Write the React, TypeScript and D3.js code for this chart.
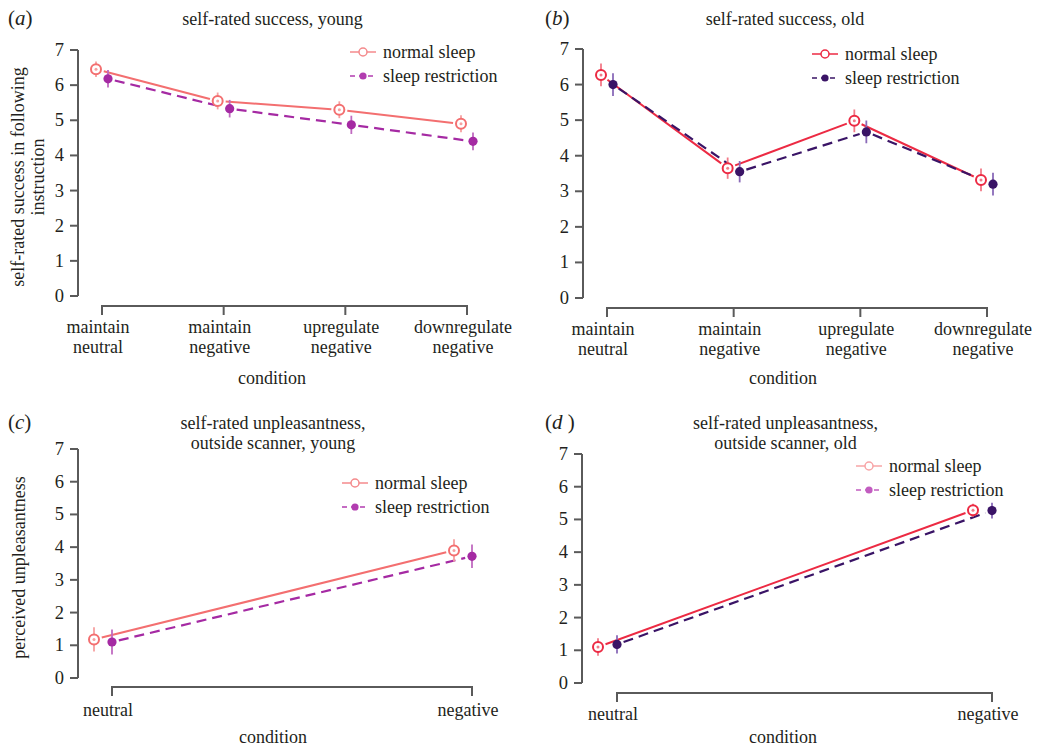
import React from "react";
import * as d3 from "d3";

// categories
const successCats = [
  ["maintain", "neutral"],
  ["maintain", "negative"],
  ["upregulate", "negative"],
  ["downregulate", "negative"],
];
const unpleasantCats = [["neutral"], ["negative"]];

// (a) self-rated success, young
const youngSuccessNormal = [6.45, 5.55, 5.3, 4.9];
const youngSuccessNormalErr = [0.22, 0.24, 0.24, 0.24];
const youngSuccessRestr = [6.18, 5.33, 4.87, 4.4];
const youngSuccessRestrErr = [0.25, 0.25, 0.26, 0.25];

// (b) self-rated success, old
const oldSuccessNormal = [6.27, 3.65, 4.98, 3.32];
const oldSuccessNormalErr = [0.32, 0.3, 0.32, 0.32];
const oldSuccessRestr = [6.0, 3.55, 4.67, 3.2];
const oldSuccessRestrErr = [0.32, 0.3, 0.32, 0.32];

// (c) unpleasantness, young
const youngUnpNormal = [1.18, 3.9];
const youngUnpNormalErr = [0.37, 0.34];
const youngUnpRestr = [1.1, 3.72];
const youngUnpRestrErr = [0.38, 0.36];

// (d) unpleasantness, old
const oldUnpNormal = [1.1, 5.28];
const oldUnpNormalErr = [0.27, 0.2];
const oldUnpRestr = [1.18, 5.27];
const oldUnpRestrErr = [0.28, 0.24];

const yTicks = [0, 1, 2, 3, 4, 5, 6, 7];

const FONT = "'Liberation Serif', 'DejaVu Serif', serif";
const TXT = "#231f20";
const AXIS = "#5a5a5a";

const lightPal = { normal: "#f36f70", restr: "#a52aa3", normalBar: "#f7a0a0", restrBar: "#c06ac0" };
const darkPal = { normal: "#ec2a43", restr: "#3a1466", normalBar: "#f27a88", restrBar: "#8a6ab8" };
const legendLight = { normal: "#f48a8c", restr: "#b23db0" };
const legendD = { normal: "#f7a4a6", restr: "#c25cc0" };

type Panel = {
  tag: string;
  title: string[];
  titleY: number;
  ylab?: string[];
  cats: string[][];
  normal: number[];
  normalErr: number[];
  restr: number[];
  restrErr: number[];
  axisX: number;
  yTop: number;
  yBot: number;
  xAxisY: number;
  xFirst: number;
  xLast: number;
  offN: number;
  offR: number;
  pal: typeof lightPal;
  legPal: { normal: string; restr: string };
  legX: number;
  legY: number;
  labY: number;
  condX: number;
  condY: number;
  tagX: number;
};

const panels: Panel[] = [
  {
    tag: "a", title: ["self-rated success, young"], titleY: 25,
    ylab: ["self-rated success in following", "instruction"],
    cats: successCats, normal: youngSuccessNormal, normalErr: youngSuccessNormalErr,
    restr: youngSuccessRestr, restrErr: youngSuccessRestrErr,
    axisX: 78, yTop: 50, yBot: 296, xAxisY: 306, xFirst: 102, xLast: 467, offN: -6, offR: 6,
    pal: lightPal, legPal: legendLight, legX: 350, legY: 52, labY: 333, condX: 272, condY: 384, tagX: 8,
  },
  {
    tag: "b", title: ["self-rated success, old"], titleY: 25,
    cats: successCats, normal: oldSuccessNormal, normalErr: oldSuccessNormalErr,
    restr: oldSuccessRestr, restrErr: oldSuccessRestrErr,
    axisX: 583, yTop: 49, yBot: 298, xAxisY: 308, xFirst: 607, xLast: 987, offN: -6, offR: 6,
    pal: darkPal, legPal: darkPal, legX: 812, legY: 54, labY: 335, condX: 783, condY: 384, tagX: 545,
  },
  {
    tag: "c", title: ["self-rated unpleasantness,", "outside scanner, young"], titleY: 429,
    ylab: ["perceived unpleasantness"],
    cats: unpleasantCats, normal: youngUnpNormal, normalErr: youngUnpNormalErr,
    restr: youngUnpRestr, restrErr: youngUnpRestrErr,
    axisX: 78, yTop: 449, yBot: 678, xAxisY: 687, xFirst: 112, xLast: 472, offN: -18, offR: 0,
    pal: lightPal, legPal: legendLight, legX: 342, legY: 483, labY: 716, condX: 273, condY: 743, tagX: 8,
  },
  {
    tag: "d", title: ["self-rated unpleasantness,", "outside scanner, old"], titleY: 429,
    cats: unpleasantCats, normal: oldUnpNormal, normalErr: oldUnpNormalErr,
    restr: oldUnpRestr, restrErr: oldUnpRestrErr,
    axisX: 582, yTop: 454, yBot: 683, xAxisY: 693, xFirst: 617, xLast: 992, offN: -19, offR: 0,
    pal: darkPal, legPal: legendD, legX: 856, legY: 466, labY: 720, condX: 783, condY: 743, tagX: 545,
  },
];

// line segments with gaps around the points (R type = "b")
function gappedSegments(pts: [number, number][], gap: number) {
  const segs: string[] = [];
  for (let i = 0; i < pts.length - 1; i++) {
    const [x1, y1] = pts[i];
    const [x2, y2] = pts[i + 1];
    const len = Math.hypot(x2 - x1, y2 - y1);
    const ux = (x2 - x1) / len, uy = (y2 - y1) / len;
    segs.push(
      d3.line()([
        [x1 + ux * gap, y1 + uy * gap],
        [x2 - ux * gap, y2 - uy * gap],
      ]) as string
    );
  }
  return segs;
}

const PanelChart = ({ p }: { p: Panel }) => {
  const x = d3.scalePoint<number>().domain(d3.range(p.cats.length)).range([p.xFirst, p.xLast]);
  const y = d3.scaleLinear().domain([0, 7]).range([p.yBot, p.yTop]);
  const ptsN: [number, number][] = p.normal.map((v, i) => [(x(i) as number) + p.offN, y(v)]);
  const ptsR: [number, number][] = p.restr.map((v, i) => [(x(i) as number) + p.offR, y(v)]);
  const titleX = (p.xFirst + p.xLast) / 2 + (p.cats.length === 2 ? -19 : -12);
  const ylabCenter = (p.yTop + p.yBot) / 2 + 4;

  return (
    <g fontFamily={FONT} fill={TXT}>
      {/* panel tag */}
      <text x={p.tagX} y={p.titleY} fontSize={21}>
        (<tspan fontStyle="italic">{p.tag}</tspan>{p.tag === "d" ? " )" : ")"}
      </text>
      {p.title.map((t, i) => (
        <text key={i} x={titleX} y={p.titleY + i * 20} fontSize={18} textAnchor="middle">{t}</text>
      ))}

      {/* y axis */}
      <line x1={p.axisX} x2={p.axisX} y1={y(7)} y2={y(0)} stroke={AXIS} strokeWidth={2} />
      {yTicks.map((t) => (
        <g key={t}>
          <line x1={p.axisX - 8} x2={p.axisX} y1={y(t)} y2={y(t)} stroke={AXIS} strokeWidth={2} />
          <text x={p.axisX - 14} y={y(t) + 6} fontSize={18.5} textAnchor="end">{t}</text>
        </g>
      ))}
      {p.ylab && p.ylab.map((t, i) => (
        <text key={i} transform={`translate(${p.ylab!.length === 2 ? 24 + i * 20 : 25},${ylabCenter}) rotate(-90)`}
          fontSize={18} textAnchor="middle">{t}</text>
      ))}

      {/* x axis */}
      <line x1={p.xFirst} x2={p.xLast} y1={p.xAxisY} y2={p.xAxisY} stroke={AXIS} strokeWidth={2} />
      {p.cats.map((c, i) => (
        <g key={i}>
          <line x1={x(i)} x2={x(i)} y1={p.xAxisY - 1} y2={p.xAxisY + 9} stroke={AXIS} strokeWidth={2} />
          {c.map((l, j) => (
            <text key={j} x={(x(i) as number) - 4} y={p.labY + j * 20} fontSize={18} textAnchor="middle">{l}</text>
          ))}
        </g>
      ))}
      <text x={p.condX} y={p.condY} fontSize={18} textAnchor="middle">condition</text>

      {/* lines */}
      {gappedSegments(ptsN, 8).map((d, i) => (
        <path key={"n" + i} d={d} stroke={p.pal.normal} strokeWidth={2} fill="none" />
      ))}
      {gappedSegments(ptsR, 7).map((d, i) => (
        <path key={"r" + i} d={d} stroke={p.pal.restr} strokeWidth={2.2} strokeDasharray="10,6" fill="none" />
      ))}

      {/* error bars + markers */}
      {ptsN.map(([px, py], i) => (
        <g key={"en" + i}>
          <line x1={px} x2={px} y1={y(p.normal[i] - p.normalErr[i])} y2={y(p.normal[i] + p.normalErr[i])}
            stroke={p.pal.normalBar} strokeWidth={1.8} />
          <circle cx={px} cy={py} r={5} fill="#fff" stroke={p.pal.normal} strokeWidth={2} />
          <circle cx={px} cy={py} r={1.5} fill={p.pal.normalBar} />
        </g>
      ))}
      {ptsR.map(([px, py], i) => (
        <g key={"er" + i}>
          <line x1={px} x2={px} y1={y(p.restr[i] - p.restrErr[i])} y2={y(p.restr[i] + p.restrErr[i])}
            stroke={p.pal.restrBar} strokeWidth={1.8} />
          <circle cx={px} cy={py} r={4.6} fill={p.pal.restr} />
        </g>
      ))}

      {/* legend */}
      <g>
        <line x1={p.legX} x2={p.legX + 26} y1={p.legY} y2={p.legY} stroke={p.legPal.normal} strokeWidth={1.5} />
        <circle cx={p.legX + 13} cy={p.legY} r={4} fill="#fff" stroke={p.legPal.normal} strokeWidth={1.5} />
        <text x={p.legX + 33} y={p.legY + 6} fontSize={18}>normal sleep</text>
        <line x1={p.legX} x2={p.legX + 26} y1={p.legY + 24} y2={p.legY + 24} stroke={p.legPal.restr}
          strokeWidth={1.5} strokeDasharray="5,4" />
        <circle cx={p.legX + 13} cy={p.legY + 24} r={3.6} fill={p.legPal.restr} />
        <text x={p.legX + 33} y={p.legY + 30} fontSize={18}>sleep restriction</text>
      </g>
    </g>
  );
};

export default function App() {
  return (
    <svg width={1048} height={746} style={{ position: "absolute", left: 0, top: 0, background: "#fff" }}>
      <rect width={1048} height={746} fill="#fff" />
      {panels.map((p) => (
        <PanelChart key={p.tag} p={p} />
      ))}
    </svg>
  );
}
